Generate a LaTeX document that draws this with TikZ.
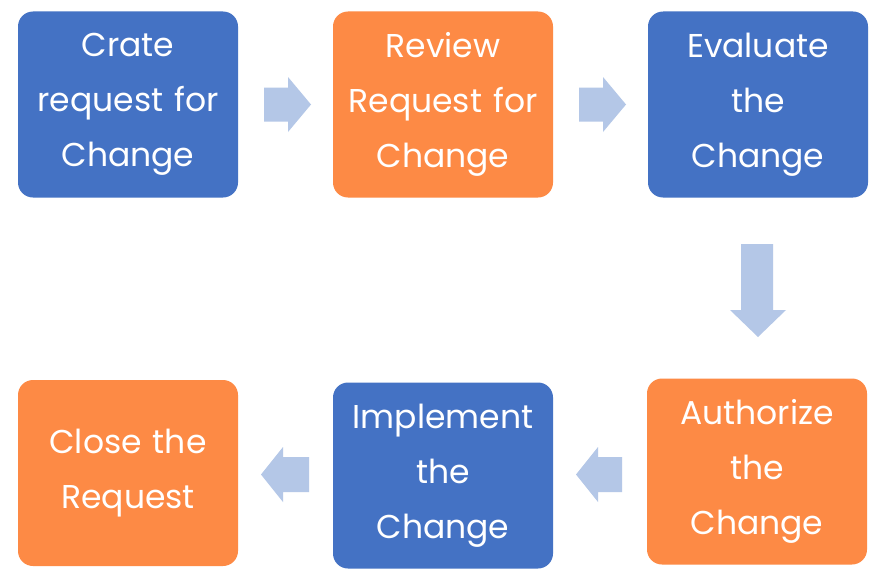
\documentclass[tikz,border=0pt]{standalone}
\usepackage{fontspec}
\setmainfont{Poppins}
\definecolor{boxblue}{HTML}{4472C4}
\definecolor{boxorange}{HTML}{FD8A45}
\definecolor{arrowblue}{HTML}{B4C7E7}
\tikzset{
  stepbox/.style={rounded corners=15pt, minimum width=220pt, minimum height=186pt,
    text width=216pt, align=center, text=white, inner sep=0pt,
    font=\fontsize{33}{55}\selectfont},
  bluebox/.style={stepbox, fill=boxblue},
  orangebox/.style={stepbox, fill=boxorange},
  blockarrow/.style={fill=arrowblue}
}
\begin{document}
\begin{tikzpicture}[x=1pt,y=-1pt]
\useasboundingbox (0,0) rectangle (888,586);
\fill[white] (0,0) rectangle (888,586);
\node[bluebox]   (crate)  at (128,104.5) {Crate\\request for\\Change};
\node[orangebox] (review) at (443,104.5) {Review\\Request for\\Change};
\node[bluebox]   (eval)   at (758,104.5) {Evaluate\\the\\Change};
\node[orangebox] (auth)   at (757,471.5) {Authorize\\the\\Change};
\node[bluebox]   (impl)   at (443,475.5) {Implement\\the\\Change};
\node[orangebox] (close)  at (128,473)   {Close the\\Request};
% right arrows
\fill[blockarrow] (264,87.5) -- (288,87.5) -- (288,77) -- (311,104.5) -- (288,132) -- (288,121.5) -- (264,121.5) -- cycle;
\fill[blockarrow] (579,87.5) -- (603,87.5) -- (603,77) -- (626,104.5) -- (603,132) -- (603,121.5) -- (579,121.5) -- cycle;
% down arrow
\fill[blockarrow] (741,244) -- (773,244) -- (773,310) -- (786,310) -- (758,337) -- (730,310) -- (741,310) -- cycle;
% left arrows
\fill[blockarrow] (622,457) -- (598,457) -- (598,447) -- (576,474.5) -- (598,502) -- (598,492) -- (622,492) -- cycle;
\fill[blockarrow] (309,457) -- (283,457) -- (283,447) -- (261,474.5) -- (283,502) -- (283,492) -- (309,492) -- cycle;
\end{tikzpicture}
\end{document}
